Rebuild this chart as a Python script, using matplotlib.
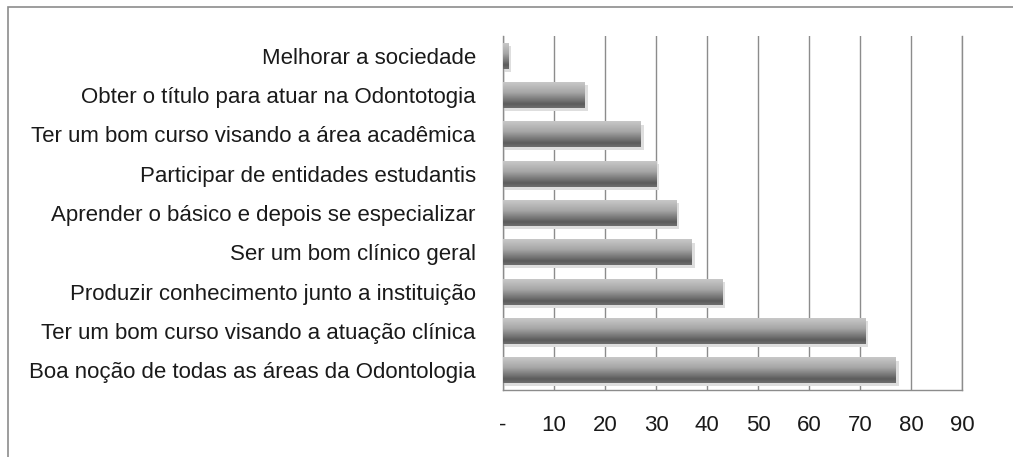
import numpy as np
import matplotlib.pyplot as plt
from matplotlib.colors import LinearSegmentedColormap
from matplotlib.patches import Rectangle

plt.rcParams['font.family'] = ['Liberation Sans', 'DejaVu Sans']

categorias = [
    "Boa noção de todas as áreas da Odontologia",
    "Ter um bom curso visando a atuação clínica",
    "Produzir conhecimento junto a instituição",
    "Ser um bom clínico geral",
    "Aprender o básico e depois se especializar",
    "Participar de entidades estudantis",
    "Ter um bom curso visando a área acadêmica",
    "Obter o título para atuar na Odontotogia",
    "Melhorar a sociedade",
]
valores = [77, 71, 43, 37, 34, 30, 27, 16, 1]
ticks = [0, 10, 20, 30, 40, 50, 60, 70, 80, 90]
tick_labels = ["-", "10", "20", "30", "40", "50", "60", "70", "80", "90"]

fig = plt.figure(figsize=(10.13, 4.57), dpi=100)
ax = fig.add_axes([0.4965, 0.1466, 0.4532, 0.7746])

# frame around chart area
fig.patches.append(Rectangle((8 / 1013, -0.01), 1.1, 1 - 7 / 457 + 0.01,
                             transform=fig.transFigure, fill=False,
                             edgecolor="#8c8c8c", linewidth=1.2))

cmap = LinearSegmentedColormap.from_list(
    "barra", [(0, "#c8c8c8"), (0.4, "#a6a6a6"), (0.85, "#5c5c5c"), (1, "#6e6e6e")])
grad = np.linspace(0, 1, 64).reshape(-1, 1)

h = 0.66
for i, v in enumerate(valores):
    # soft shadow
    ax.add_patch(Rectangle((0, i - h / 2 - 0.08), v + 0.6, h, color="#dedede",
                           zorder=2, linewidth=0))
    ax.imshow(grad, cmap=cmap, extent=[0, v, i - h / 2, i + h / 2],
              aspect="auto", origin="upper", zorder=3, interpolation="bilinear")

ax.set_xlim(0, 90)
ax.set_ylim(-0.5, len(valores) - 0.5)
ax.set_yticks(range(len(categorias)))
ax.set_yticklabels(categorias, fontsize=16, color="#1a1a1a")
ax.set_xticks(ticks)
ax.set_xticklabels(tick_labels, fontsize=16, color="#1a1a1a")
ax.tick_params(axis="y", length=0, pad=19.5)
ax.tick_params(axis="x", length=0, pad=18)

ax.grid(axis="x", color="#8c8c8c", linewidth=1.0, zorder=1)
ax.set_axisbelow(True)
ax.spines["top"].set_visible(False)
for s in ["left", "bottom", "right"]:
    ax.spines[s].set_color("#8c8c8c")
    ax.spines[s].set_linewidth(1.0)

fig.savefig("out.png", dpi=100)
